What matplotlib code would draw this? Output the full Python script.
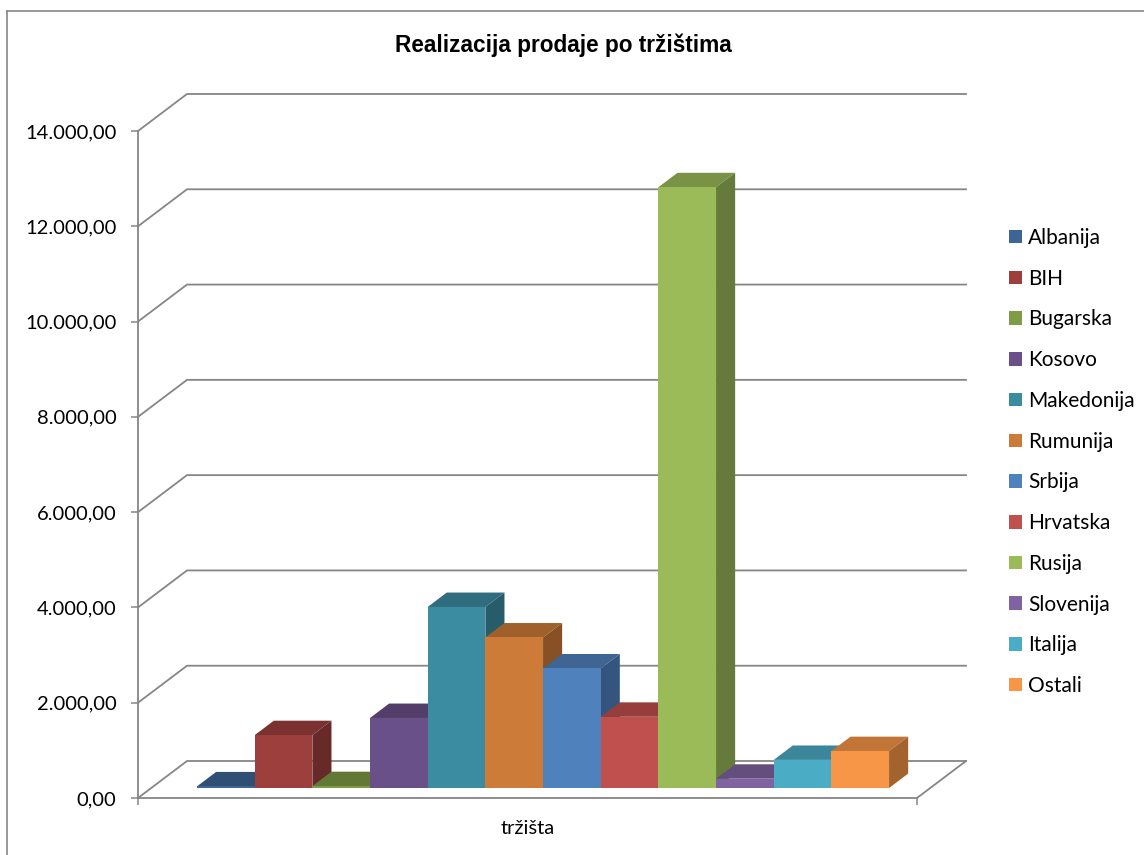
#!/usr/bin/env python
import matplotlib
matplotlib.use("Agg")
from matplotlib import pyplot as plt
from matplotlib.patches import Polygon, Patch
from matplotlib.ticker import FuncFormatter
from matplotlib.colors import to_rgb

plt.rcParams['font.family'] = ['Lato', 'DejaVu Sans']

# data
markets = ["Albanija", "BIH", "Bugarska", "Kosovo", "Makedonija", "Rumunija",
           "Srbija", "Hrvatska", "Rusija", "Slovenija", "Italija", "Ostali"]
sales = [35, 1110, 40, 1470, 3800, 3160, 2510, 1495, 12610, 195, 590, 775]
colors = ["#3D6596", "#9D3F3C", "#7E9B45", "#6A5088", "#3B8BA1", "#CD7B38",
          "#4F81BD", "#C0504D", "#9BBB59", "#8064A2", "#4BACC6", "#F79646"]
yticks = list(range(0, 14001, 2000))
category = "tržišta"

W, H = 1144, 855
fig = plt.figure(figsize=(W / 100, H / 100), dpi=100)

# front plane of the 3d box, in pixels
left_px, right_px, bottom_px, top_px = 138, 917, 798, 131
ax = fig.add_axes([left_px / W, 1 - bottom_px / H,
                   (right_px - left_px) / W, (bottom_px - top_px) / H])
x0, x1 = -1.294, 12.214
ax.set_xlim(x0, x1)
ax.set_ylim(0, 14000)

# depth offset of the box (49 px right, 37 px up) in data units
px_x = (x1 - x0) / (right_px - left_px)
px_y = 14000 / (bottom_px - top_px)
DX = 49 * px_x
DY = 37 * px_y

def P(x, v, d):
    return (x + d * DX, v + d * DY)

def shade(c, f):
    r, g, b = to_rgb(c)
    return (r * f, g * f, b * f)

grid_c = "#868686"

# gridlines on side wall and back wall
for v in yticks:
    pts = [P(x0, v, 0), P(x0, v, 1), P(x1, v, 1)]
    ax.plot([p[0] for p in pts], [p[1] for p in pts], color=grid_c,
            lw=1.3, zorder=1, clip_on=False, solid_joinstyle='miter')

# floor right edge
pts = [P(x1, 0, 0), P(x1, 0, 1)]
ax.plot([p[0] for p in pts], [p[1] for p in pts], color=grid_c, lw=1.3,
        zorder=1, clip_on=False)

# bars
d0, d1 = 0.27, 0.66
for i, (val, c) in enumerate(zip(sales, colors)):
    xa, xb = i - 0.5, i + 0.5
    top = Polygon([P(xa, val, d0), P(xb, val, d0), P(xb, val, d1), P(xa, val, d1)],
                  closed=True, fc=shade(c, 0.78), ec='none', zorder=3 + i, clip_on=False)
    side = Polygon([P(xb, 0, d0), P(xb, 0, d1), P(xb, val, d1), P(xb, val, d0)],
                   closed=True, fc=shade(c, 0.66), ec='none', zorder=3 + i, clip_on=False)
    front = Polygon([P(xa, 0, d0), P(xb, 0, d0), P(xb, val, d0), P(xa, val, d0)],
                    closed=True, fc=c, ec='none', zorder=3 + i, clip_on=False)
    ax.add_patch(top)
    ax.add_patch(side)
    ax.add_patch(front)

# axes
for s in ['top', 'right']:
    ax.spines[s].set_visible(False)
for s in ['left', 'bottom']:
    ax.spines[s].set_color(grid_c)
    ax.spines[s].set_linewidth(1.3)
    ax.spines[s].set_zorder(2)
ax.patch.set_visible(False)

ax.set_yticks(yticks)
ax.yaxis.set_major_formatter(FuncFormatter(
    lambda v, p: "{:,.2f}".format(v).replace(",", "X").replace(".", ",").replace("X", ".")))
ax.tick_params(axis='y', length=5, width=1.1, color=grid_c, pad=10.5,
               labelsize=14.5, labelcolor='black')
ax.set_xticks([x0, x1])
ax.set_xticklabels(["", ""])
ax.tick_params(axis='x', length=5, width=1.1, color=grid_c)
ax.set_xlabel(category, fontsize=14.5, labelpad=7)

fig.text(563 / W, 1 - 45 / H, "Realizacija prodaje po tržištima",
         ha='center', va='center', fontsize=16.3, fontweight='bold',
         family='Liberation Sans')

handles = [Patch(fc=c, ec='none') for c in colors]
fig.legend(handles, markets, loc='upper left',
           bbox_to_anchor=(1009 / W, 1 - 228 / H), frameon=False,
           fontsize=15, borderpad=0, borderaxespad=0, handlelength=0.62,
           handleheight=0.62, handletextpad=0.3, labelspacing=0.995)

# chart border
fig.add_artist(plt.Line2D([7 / W, 7 / W], [0, 1 - 11 / H], color="#868686",
                          lw=1.2, transform=fig.transFigure))
fig.add_artist(plt.Line2D([7 / W, 1], [1 - 11 / H, 1 - 11 / H], color="#868686",
                          lw=1.2, transform=fig.transFigure))

fig.savefig("out.png", dpi=100)
